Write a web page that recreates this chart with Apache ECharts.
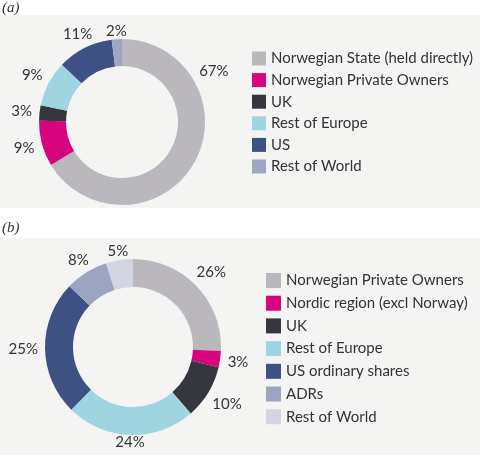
<!DOCTYPE html>
<html>
<head>
<meta charset="utf-8">
<script src="https://cdn.jsdelivr.net/npm/echarts@6/dist/echarts.min.js"></script>
<style>
html,body{margin:0;padding:0;background:#fff;}
#c{width:480px;height:459px;}
</style>
</head>
<body>
<div id="c"></div>
<script>
// Chart (a)
const namesA = ['Norwegian State (held directly)', 'Norwegian Private Owners', 'UK', 'Rest of Europe', 'US', 'Rest of World'];
const valuesA = [67, 9, 3, 9, 11, 2];
const colorsA = ['#bab8bd', '#d6047d', '#34373e', '#9fd5e1', '#3d5182', '#9ea7c2'];

// Chart (b)
const namesB = ['Norwegian Private Owners', 'Nordic region (excl Norway)', 'UK', 'Rest of Europe', 'US ordinary shares', 'ADRs', 'Rest of World'];
const valuesB = [26, 3, 10, 24, 25, 8, 5];
const colorsB = ['#bab8bd', '#d6047d', '#34373e', '#9fd5e1', '#3d5182', '#9ba4c0', '#d3d6e2'];

const FONT = 'Lato, "Noto Sans", sans-serif';
const TXT = '#333333';

function mk(names, values, colors) {
  return names.map((n, i) => ({ name: n, value: values[i], itemStyle: { color: colors[i] } }));
}
function legendData(names, colors) {
  return names.map((n, i) => ({ name: n, itemStyle: { color: colors[i] } }));
}
function midAngles(values) {
  const tot = values.reduce((a, b) => a + b, 0);
  let acc = 0;
  return values.map(v => { const m = (acc + v / 2) / tot * 2 * Math.PI; acc += v; return m; });
}
// places a label centred just outside the ring along the slice's mid angle
function placer(center, rOut, values, override) {
  const mids = midAngles(values);
  return function (p) {
    const i = p.dataIndex;
    const t = (override && override[i] != null) ? override[i] : mids[i];
    const hw = p.labelRect.width / 2;
    const s = Math.sin(t), c = Math.cos(t);
    const R = rOut + 1 + (hw + 6) * Math.abs(s) + 6 * Math.abs(c);
    return { x: center[0] + R * s, y: center[1] - R * c, align: 'center', verticalAlign: 'middle' };
  };
}

const chart = echarts.init(document.getElementById('c'), null, { renderer: 'canvas' });
const cA = [122, 122], cB = [133, 347];
const rA = [56, 83], rB = [60, 88];

chart.setOption({
  backgroundColor: '#ffffff',
  animation: false,
  graphic: [
    { type: 'rect', z: -10, shape: { x: 0, y: 15, width: 480, height: 193 }, style: { fill: '#f4f4f3' } },
    { type: 'rect', z: -10, shape: { x: 0, y: 238, width: 480, height: 217 }, style: { fill: '#f4f4f3' } },
    { type: 'text', left: 2, top: 1, style: { text: '(a)', font: 'italic 15px "Liberation Serif", "DejaVu Serif", serif', fill: TXT } },
    { type: 'text', left: 2, top: 221, style: { text: '(b)', font: 'italic 15px "Liberation Serif", "DejaVu Serif", serif', fill: TXT } }
  ],
  legend: [
    {
      orient: 'vertical', left: 252, top: 51, padding: 0, itemWidth: 14, itemHeight: 14, itemGap: 6.6,
      icon: 'rect', selectedMode: false,
      textStyle: { fontFamily: FONT, fontSize: 15, color: TXT },
      data: legendData(namesA, colorsA)
    },
    {
      orient: 'vertical', left: 266, top: 273, padding: 0, itemWidth: 15, itemHeight: 15, itemGap: 7.7,
      icon: 'rect', selectedMode: false,
      textStyle: { fontFamily: FONT, fontSize: 15, color: TXT },
      data: legendData(namesB, colorsB)
    }
  ],
  series: [
    {
      type: 'pie', center: cA, radius: rA, startAngle: 90, clockwise: true,
      avoidLabelOverlap: false, silent: true,
      label: { show: true, position: 'outside', formatter: '{c}%', fontFamily: FONT, fontSize: 15, color: TXT },
      labelLine: { show: false, length: 6, length2: 0 },
      labelLayout: placer(cA, rA[1], valuesA, { 0: 61 * Math.PI / 180 }),
      data: mk(namesA, valuesA, colorsA)
    },
    {
      type: 'pie', center: cB, radius: rB, startAngle: 90, clockwise: true,
      avoidLabelOverlap: false, silent: true,
      label: { show: true, position: 'outside', formatter: '{c}%', fontFamily: FONT, fontSize: 15, color: TXT },
      labelLine: { show: false, length: 6, length2: 0 },
      labelLayout: placer(cB, rB[1], valuesB),
      data: mk(namesB, valuesB, colorsB)
    }
  ]
});
</script>
</body>
</html>
